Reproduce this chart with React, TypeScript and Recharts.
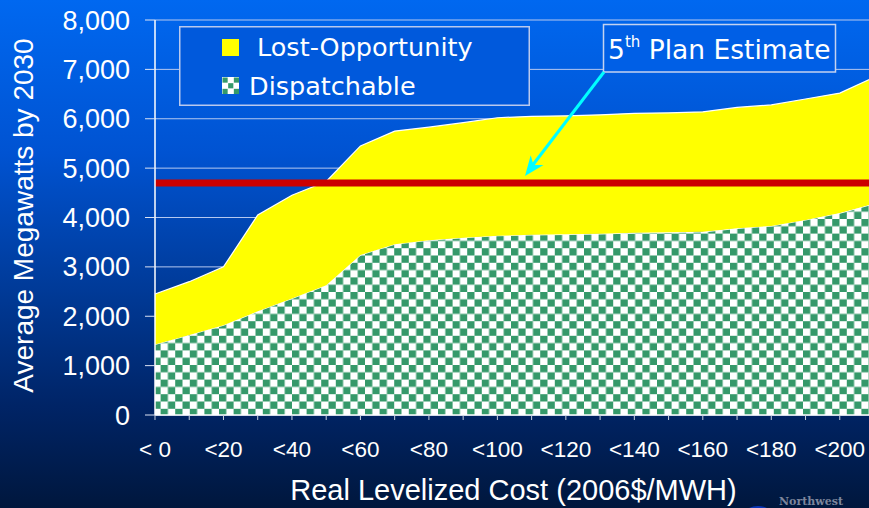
import { Area, AreaChart, CartesianGrid, Legend, ReferenceLine, XAxis, YAxis } from 'recharts';

const categories = [
  '< 0', '<10', '<20', '<30', '<40', '<50', '<60', '<70', '<80', '<90', '<100',
  '<110', '<120', '<130', '<140', '<150', '<160', '<170', '<180', '<190', '<200', '<210',
];
const dispatchable = [
  1430, 1620, 1820, 2100, 2360, 2630, 3240, 3460, 3540, 3590, 3630,
  3650, 3660, 3670, 3690, 3700, 3710, 3780, 3830, 3950, 4090, 4280,
];
const lostOpportunity = [
  1020, 1080, 1180, 1950, 2090, 2100, 2210, 2290, 2290, 2330, 2390,
  2400, 2400, 2410, 2420, 2420, 2430, 2450, 2450, 2450, 2430, 2560,
];
const yTicks = [0, 1000, 2000, 3000, 4000, 5000, 6000, 7000, 8000];
const planEstimate = 4700;

const rows = categories.map((cat, i) => ({
  cat,
  dispatchable: dispatchable[i],
  lost: lostOpportunity[i],
}));

const SANS = '"Liberation Sans", Arial, sans-serif';
const DEJAVU = '"DejaVu Sans", Verdana, sans-serif';
const GREEN = '#35996a';

function CostTick({ x, y, payload, index }: any) {
  if (index % 2 !== 0) return <g />;
  return (
    <text x={x} y={y} dy={35} textAnchor="middle" fill="#fff" fontSize={22.5} fontFamily={SANS}>
      {payload.value}
    </text>
  );
}

// small 3x3 checker swatch used in the legend
function CheckIcon({ x, y }: { x: number; y: number }) {
  const s = 17 / 3;
  const cells = [
    [0, 0], [2, 0], [1, 1], [0, 2], [2, 2],
  ];
  return (
    <g>
      <rect x={x} y={y} width={17} height={17} fill="#fff" />
      {cells.map(([c, r]) => (
        <rect key={`${c}-${r}`} x={x + c * s + 0.5} y={y + r * s + 0.5} width={s - 0.5} height={s - 0.5} fill={GREEN} />
      ))}
    </g>
  );
}

function LegendBox() {
  return (
    <svg width={351} height={80} style={{ display: 'block' }}>
      <rect x={0.75} y={0.75} width={349.5} height={78.5} fill="#0059dc" stroke="#b9c9ee" strokeWidth={1.5} />
      <rect x={43} y={13} width={17} height={17} fill="#ffff00" />
      <text x={78} y={30} fill="#fff" fontSize={25.5} fontFamily={DEJAVU}>Lost-Opportunity</text>
      <CheckIcon x={43} y={51} />
      <text x={70} y={68.5} fill="#fff" fontSize={25.5} fontFamily={DEJAVU}>Dispatchable</text>
    </svg>
  );
}

function Annotation() {
  return (
    <svg width={869} height={508} style={{ position: 'absolute', left: 0, top: 0, pointerEvents: 'none' }}>
      <rect x={603.5} y={24.5} width={232} height={47.5} fill="#005fe6" stroke="#c4d2f0" strokeWidth={1.5} />
      <text x={608} y={59} fill="#fff" fontFamily={DEJAVU} fontSize={26.5}>
        5
        <tspan fontSize={15} dy={-12}>th</tspan>
        <tspan dy={12}> Plan Estimate</tspan>
      </text>
      <line x1={604} y1={72} x2={532} y2={166} stroke="#00ffff" strokeWidth={3} />
      <polygon points="525,176 530.7,155.3 533.5,164.9 543.5,164.9" fill="#00ffff" />
      <ellipse cx={758} cy={518} rx={16} ry={12} fill="#0a36b8" />
      <text x={779} y={505} fill="#7d869c" fontFamily='"DejaVu Serif", "Liberation Serif", serif' fontWeight="bold" fontSize={11}>
        Northwest
      </text>
    </svg>
  );
}

export default function App() {
  return (
    <div
      style={{
        position: 'absolute',
        left: 0,
        top: 0,
        width: 869,
        height: 508,
        overflow: 'hidden',
        background: 'linear-gradient(180deg, #0068f0 0%, #0053d2 30%, #003c9c 55%, #002466 80%, #00173d 100%)',
      }}
    >
      <AreaChart width={880} height={508} data={rows} margin={{ top: 20, right: 6, left: 0, bottom: 0 }}>
        <defs>
          <pattern id="checker" width={14.6} height={14.6} patternUnits="userSpaceOnUse">
            <rect width={14.6} height={14.6} fill="#fff" />
            <rect width={7.3} height={7.3} fill={GREEN} />
            <rect x={7.3} y={7.3} width={7.3} height={7.3} fill={GREEN} />
          </pattern>
        </defs>
        <CartesianGrid vertical={false} stroke="#b4c8f0" strokeWidth={1} />
        <XAxis
          dataKey="cat"
          interval={0}
          height={93}
          tickSize={5}
          tick={CostTick}
          axisLine={{ stroke: '#fff', strokeWidth: 1.5 }}
          tickLine={{ stroke: '#c8d0e0' }}
          label={{
            value: 'Real Levelized Cost (2006$/MWH)',
            content: (p: any) => (
              <text
                x={p.viewBox.x + p.viewBox.width / 2 - 1}
                y={p.viewBox.y + 85}
                textAnchor="middle"
                fill="#fff"
                fontSize={29}
                fontFamily={SANS}
              >
                Real Levelized Cost (2006$/MWH)
              </text>
            ),
          }}
        />
        <YAxis
          width={155}
          domain={[0, 8000]}
          ticks={yTicks}
          tickSize={10}
          tickMargin={15}
          tickFormatter={(v: number) => v.toLocaleString('en-US')}
          tick={{ fill: '#fff', fontSize: 27, fontFamily: SANS }}
          axisLine={{ stroke: '#fff', strokeWidth: 1.5 }}
          tickLine={{ stroke: '#dde4f4' }}
          label={{
            value: 'Average Megawatts by 2030',
            content: (p: any) => {
              const cx = p.viewBox.x + 33;
              const cy = p.viewBox.y + p.viewBox.height / 2 - 2;
              return (
                <text
                  x={cx}
                  y={cy}
                  transform={`rotate(-90, ${cx}, ${cy})`}
                  textAnchor="middle"
                  fill="#fff"
                  fontSize={28}
                  fontFamily={SANS}
                >
                  Average Megawatts by 2030
                </text>
              );
            },
          }}
        />
        <Legend
          layout="horizontal"
          verticalAlign="middle"
          align="center"
          content={() => <LegendBox />}
          wrapperStyle={{ top: 26, left: 179, width: 351, height: 80 }}
        />
        <Area
          type="linear"
          dataKey="dispatchable"
          name="Dispatchable"
          stackId="a"
          stroke="#fff"
          strokeWidth={1.2}
          fill="url(#checker)"
          fillOpacity={1}
          isAnimationActive={false}
        />
        <Area
          type="linear"
          dataKey="lost"
          name="Lost-Opportunity"
          stackId="a"
          stroke="#fff"
          strokeWidth={1.2}
          fill="#ffff00"
          fillOpacity={1}
          isAnimationActive={false}
        />
        <ReferenceLine y={planEstimate} stroke="#cc0000" strokeWidth={7} />
      </AreaChart>
      <Annotation />
    </div>
  );
}
